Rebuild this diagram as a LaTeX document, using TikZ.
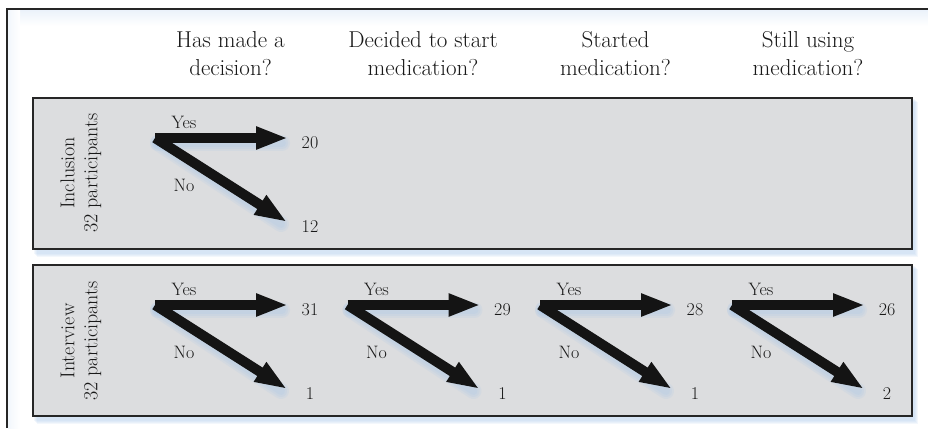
\documentclass[tikz,border=0pt]{standalone}
\usetikzlibrary{arrows.meta,calc}
\definecolor{boxfill}{RGB}{220,221,223}
\definecolor{boxline}{RGB}{38,38,38}
\definecolor{shadeblue}{RGB}{165,198,235}
\definecolor{ink}{RGB}{25,25,25}
\tikzset{
  panel/.style={draw=boxline, line width=1.7pt, fill=boxfill, minimum width=879pt, minimum height=151pt, anchor=north west, inner sep=0pt, outer sep=0pt},
  arrowline/.style={line width=10pt, line cap=butt, draw=black!92, -{Triangle[length=32pt,width=21pt]}},
  arrowshade/.style={line width=#1, draw=shadeblue, opacity=0.16, line cap=round},
  head/.style={anchor=base, align=center, text=ink, font=\fontsize{23}{28}\selectfont},
  rotlbl/.style={rotate=90, align=center, text=ink, font=\fontsize{20}{23}\selectfont},
  lbl/.style={text=ink, font=\fontsize{18}{20}\selectfont, inner sep=0pt}
}
\newcommand{\branch}[5]{%
  \coordinate (#1a) at (#2,#3);
  \coordinate (#1y) at (#2+133,#3);
  \coordinate (#1n) at (#2+132,#3+84);
  \foreach \w in {8,12,16} {
    \draw[arrowshade=\w pt] ($(#1a)+(3,5)$) -- ($(#1y)+(-6,5)$);
    \draw[arrowshade=\w pt] ($(#1a)+(3,5)$) -- ($(#1n)+(-6,2)$);
  }
  \draw[arrowline] (#1a) -- (#1y);
  \draw[arrowline] (#1a) -- (#1n);
  \node[lbl] (#1yl) at (#2+29,#3-16) {Yes};
  \node[lbl] (#1nl) at (#2+29,#3+47) {No};
  \node[lbl] (#1yv) at (#2+155,#3+5) {#4};
  \node[lbl] (#1nv) at (#2+155,#3+89) {#5};
}
\begin{document}
\begin{tikzpicture}[x=1pt,y=-1pt]
\useasboundingbox (0,0) rectangle (928,428);
\fill[white] (0,0) rectangle (928,428);
% outer frame shading and frame
\shade[top color=shadeblue!22, bottom color=white] (8,10) rectangle (928,26);
\shade[left color=shadeblue!14, right color=white] (8,10) rectangle (20,428);
\draw[line width=2pt, boxline] (7,428) -- (7,9) -- (928,9);
% panel shadows
\foreach \d in {1,2,3,4} {
  \fill[shadeblue, opacity=0.13] (33+\d,98+\d) rectangle (912+\d+2,249+\d+4);
  \fill[shadeblue, opacity=0.13] (33+\d,265+\d) rectangle (912+\d+2,416+\d+4);
}
\node[panel] (inc) at (33,98) {};
\node[panel] (int) at (33,265) {};
% headers
\node[head] (h1) at (230.5,75) {Has made a\\decision?};
\node[head] (h2) at (423,75) {Decided to start\\medication?};
\node[head] (h3) at (615.5,75) {Started\\medication?};
\node[head] (h4) at (808,75) {Still using\\medication?};
% side labels
\node[rotlbl] (l1) at (81,173) {Inclusion\\32 participants};
\node[rotlbl] (l2) at (81,341) {Interview\\32 participants};
% branches
\branch{p}{155}{138}{20}{12}
\branch{q}{155}{305}{31}{1}
\branch{r}{347.5}{305}{29}{1}
\branch{s}{540}{305}{28}{1}
\branch{t}{732}{305}{26}{2}
\end{tikzpicture}
\end{document}
